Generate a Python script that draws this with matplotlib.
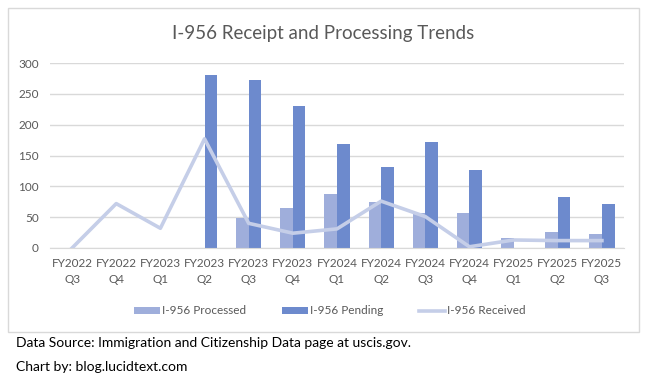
import matplotlib.pyplot as plt
import numpy as np
from matplotlib.patches import Rectangle

plt.rcParams['font.family'] = ['Lato', 'DejaVu Sans']

quarters = ["FY2022\nQ3", "FY2022\nQ4", "FY2023\nQ1", "FY2023\nQ2", "FY2023\nQ3",
            "FY2023\nQ4", "FY2024\nQ1", "FY2024\nQ2", "FY2024\nQ3", "FY2024\nQ4",
            "FY2025\nQ1", "FY2025\nQ2", "FY2025\nQ3"]
processed = [0, 0, 0, 0, 48, 65, 88, 75, 57, 57, 17, 26, 22]
pending = [0, 0, 0, 280, 273, 231, 169, 132, 172, 127, 0, 82, 72]
received = [0, 72, 32, 177, 40, 24, 31, 76, 51, 2, 13, 12, 12]

c_proc = '#9FAEDB'
c_pend = '#6D8ACD'
c_recv = '#C5CEE8'
grey = '#595959'

fig = plt.figure(figsize=(6.46, 3.79), dpi=100)
ax = fig.add_axes([50 / 646, 1 - 248 / 379, 574 / 646, 185 / 379])

# chart frame
fig.patches.append(Rectangle((8 / 646, 1 - 332 / 379), 631 / 646, 324 / 379,
                             transform=fig.transFigure, fill=False,
                             edgecolor='#D9D9D9', linewidth=1))

x = np.arange(len(quarters))
w = 0.285
b1 = ax.bar(x - w / 2, processed, w, color=c_proc, label='I-956 Processed', zorder=2)
b2 = ax.bar(x + w / 2, pending, w, color=c_pend, label='I-956 Pending', zorder=2)
l1, = ax.plot(x, received, color=c_recv, linewidth=2.6, label='I-956 Received', zorder=3)

ax.set_xlim(-0.5, len(quarters) - 0.5)
ax.set_ylim(0, 300)
ax.set_yticks(range(0, 301, 50))
ax.set_xticks(x)
ax.set_xticklabels(quarters, fontsize=8.5, color=grey, linespacing=1.6)
ax.tick_params(axis='y', labelsize=8.5, labelcolor=grey, length=0, pad=8)
ax.tick_params(axis='x', length=0, pad=7)
ax.grid(axis='y', color='#D9D9D9', linewidth=1, zorder=0)
for s in ['top', 'right', 'left']:
    ax.spines[s].set_visible(False)
ax.spines['bottom'].set_color('#D9D9D9')

fig.text(0.5, 1 - 33 / 379, 'I-956 Receipt and Processing Trends',
         ha='center', va='center', fontsize=13.5, color=grey)

fig.legend(handles=[b1, b2, l1], loc='center', bbox_to_anchor=(330 / 646, 1 - 311 / 379),
           ncol=3, frameon=False, fontsize=8.5, labelcolor=grey, handlelength=2.2,
           handleheight=0.6, handletextpad=0.2, columnspacing=3.0)

fig.text(16 / 646, 1 - 343 / 379, 'Data Source: Immigration and Citizenship Data page at uscis.gov.',
         ha='left', va='center', fontsize=10, color='black')
fig.text(16 / 646, 1 - 367 / 379, 'Chart by: blog.lucidtext.com',
         ha='left', va='center', fontsize=10, color='black')

plt.savefig('out.png', dpi=100)
